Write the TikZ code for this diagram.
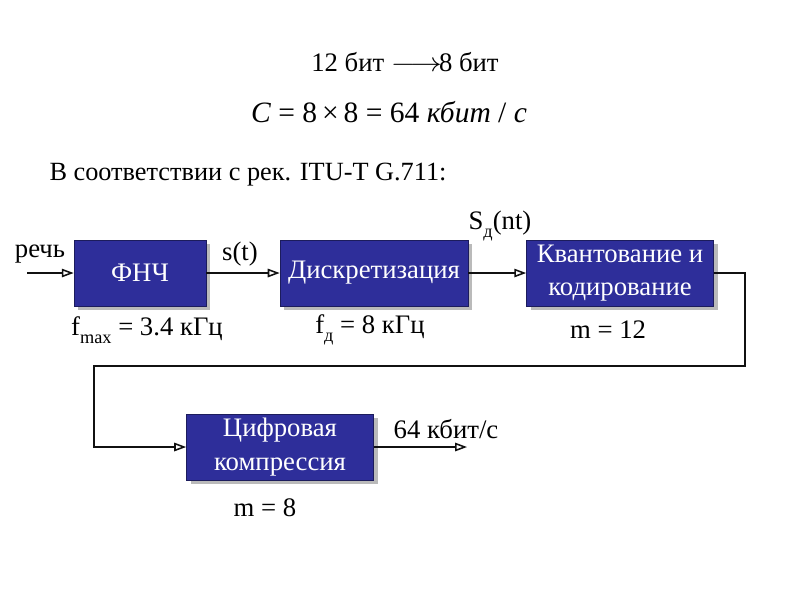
\documentclass[tikz,border=0pt]{standalone}
\usepackage{fontspec}
\setmainfont{Liberation Serif}
\newfontfamily\serfont{Liberation Serif}
\usetikzlibrary{arrows.meta, positioning, shadows}
\definecolor{BoxBlue}{HTML}{2E2E9A}
\definecolor{BoxEdge}{HTML}{1C1C5C}
\definecolor{LineBlack}{HTML}{111111}
\newcommand{\lowsub}[1]{\raisebox{-0.6ex}{\fontsize{13}{13}\selectfont #1}}
\tikzset{
  block/.style={draw=BoxEdge, fill=BoxBlue, text=white, align=center, minimum width=4.675cm, minimum height=1.65cm, inner sep=3pt, font=\serfont\fontsize{19}{24}\selectfont, drop shadow={shadow xshift=3pt, shadow yshift=-3pt, fill=black!45, opacity=0.6}},
  lbl/.style={inner sep=0pt, font=\serfont\fontsize{19}{23}\selectfont},
  arrow/.style={-{Triangle[open, length=8.5pt, width=6pt]}, line width=1.1pt, draw=LineBlack}
}
\begin{document}
\begin{tikzpicture}[x=0.025cm, y=-0.025cm]
\useasboundingbox (0,0) rectangle (800,600);
% header
\node[lbl] (bits) at (405,62) {12 бит \scalebox{1.3}[1.1]{$\longrightarrow$}\kern-2pt8 бит};
\node[lbl, font=\serfont\fontsize{21}{25}\selectfont] (rate) at (389,112) {\textit{C} = 8\,×\,8 = 64 \textit{кбит} / \textit{с}};
\node[lbl, font=\serfont\fontsize{18.7}{22}\selectfont] (itu) at (248,175) {В соответствии с рек. ITU-T G.711:};
% blocks
\node[block, minimum width=3.3cm] (lpf) at (140,273) {ФНЧ};
\node[block, minimum width=4.7cm] (samp) at (374,273) {Дискретизация};
\node[block] (quant) at (620,273) {Квантование и\\кодирование};
\node[block] (comp) at (280,447) {Цифровая\\компрессия};
% labels
\node[lbl] (speech) at (40,254) {речь};
\node[lbl] (sig) at (240,254) {s(t)};
\node[lbl] (sig2) at (500,226) {S\lowsub{д}(nt)};
\node[lbl] (fmax) at (147,330) {f\lowsub{max} = 3.4 кГц};
\node[lbl] (fs) at (370,330) {f\lowsub{д} = 8 кГц};
\node[lbl] (m12) at (608,330) {m = 12};
\node[lbl] (kbps) at (446,429) {64 кбит/с};
\node[lbl] (m8) at (265,508) {m = 8};
% connectors
\coordinate (in) at (27,273);
\coordinate (qr) at (745,366);
\coordinate (ql) at (94,366);
\coordinate (out) at (467,447);
\draw[arrow] (in) -- (lpf.west);
\draw[arrow] (lpf) -- (samp);
\draw[arrow] (samp) -- (quant);
\draw[arrow] (quant.east) -| (qr) -- (ql) |- (comp.west);
\draw[arrow] (comp.east) -- (out);
\end{tikzpicture}
\end{document}
